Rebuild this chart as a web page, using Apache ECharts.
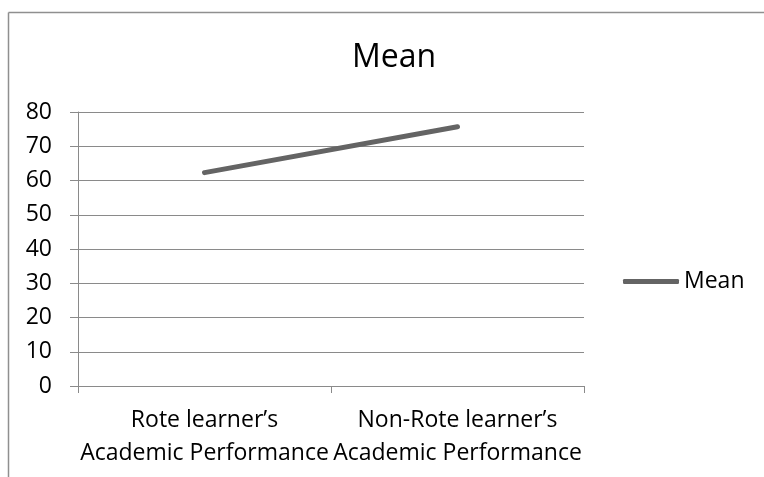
<!DOCTYPE html>
<html>
<head>
<meta charset="utf-8">
<script src="https://cdn.jsdelivr.net/npm/echarts@6/dist/echarts.min.js"></script>
<style>
  html, body { margin: 0; padding: 0; background: #fff; }
  #chart { width: 764px; height: 477px; }
</style>
</head>
<body>
<div id="chart"></div>
<script>
// Mean academic performance of rote vs non-rote learners
const categories = ['Rote learner’s\nAcademic Performance', 'Non-Rote learner’s\nAcademic Performance'];
const meanValues = [62.3, 75.7];
const yTicks = { min: 0, max: 80, interval: 10 };

const FONT = 'Open Sans';
const GRID_GRAY = '#8a8a8a';

const chart = echarts.init(document.getElementById('chart'), null, { renderer: 'canvas' });

chart.setOption({
  backgroundColor: '#ffffff',
  animation: false,
  title: {
    text: 'Mean',
    left: 394,
    top: 42,
    padding: 0,
    textAlign: 'center',
    textStyle: { fontFamily: FONT, fontSize: 32, fontWeight: 'normal', color: '#000' }
  },
  legend: {
    left: 623,
    top: 270,
    padding: 0,
    orient: 'vertical',
    itemWidth: 56,
    itemHeight: 5,
    icon: 'roundRect',
    data: [{ name: 'Mean' }],
    textStyle: { fontFamily: FONT, fontSize: 23, color: '#000' }
  },
  grid: { left: 78, right: 180, top: 112, bottom: 91, containLabel: false },
  xAxis: {
    type: 'category',
    data: categories,
    boundaryGap: true,
    axisLine: { show: true, lineStyle: { color: GRID_GRAY, width: 1 } },
    axisTick: { show: true, length: 7, inside: false, lineStyle: { color: GRID_GRAY } },
    axisLabel: {
      interval: 0,
      margin: 18,
      fontFamily: FONT,
      fontSize: 23,
      lineHeight: 33,
      color: '#000'
    },
    splitLine: { show: false }
  },
  yAxis: {
    type: 'value',
    min: yTicks.min,
    max: yTicks.max,
    interval: yTicks.interval,
    axisLine: { show: true, lineStyle: { color: GRID_GRAY, width: 1 } },
    axisTick: { show: true, length: 8, lineStyle: { color: GRID_GRAY } },
    axisLabel: { margin: 26, fontFamily: FONT, fontSize: 23, color: '#000' },
    splitLine: { show: true, lineStyle: { color: GRID_GRAY, width: 1 } }
  },
  series: [{
    name: 'Mean',
    type: 'line',
    data: meanValues,
    symbol: 'none',
    itemStyle: { color: '#646464' },
    lineStyle: { color: '#646464', width: 5, cap: 'round' }
  }],
  graphic: [
    // chart frame (top and left edges)
    { type: 'line', shape: { x1: 8.5, y1: 12.5, x2: 764, y2: 12.5 }, style: { stroke: '#8f8f8f', lineWidth: 1.5 }, silent: true },
    { type: 'line', shape: { x1: 8.5, y1: 12.5, x2: 8.5, y2: 477 }, style: { stroke: '#8f8f8f', lineWidth: 1.5 }, silent: true }
  ]
});
</script>
</body>
</html>
